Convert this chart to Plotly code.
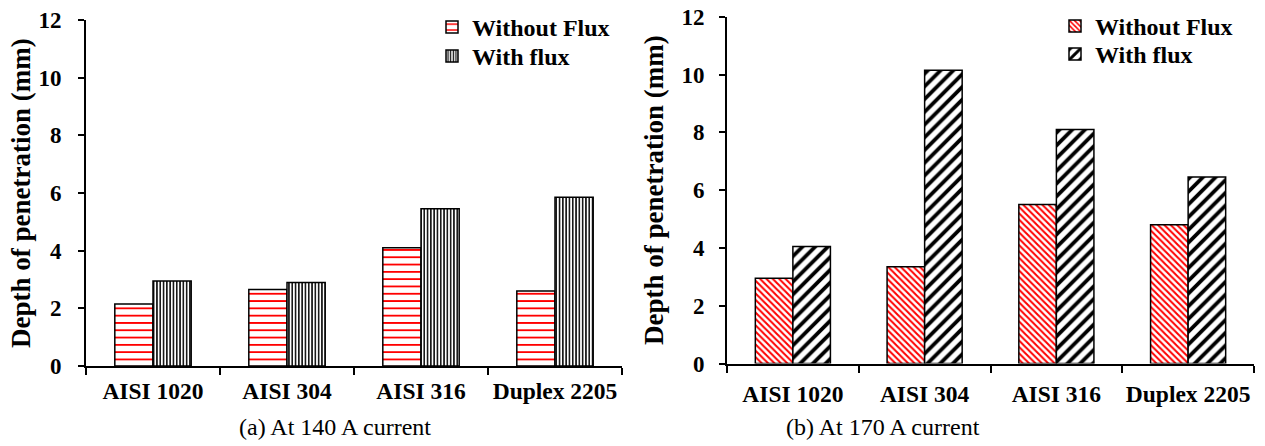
import plotly.graph_objects as go

categories = ["AISI 1020", "AISI 304", "AISI 316", "Duplex 2205"]
y_ticks = [0, 2, 4, 6, 8, 10, 12]

a_without_flux = [2.15, 2.65, 4.1, 2.6]
a_with_flux = [2.95, 2.9, 5.45, 5.85]
b_without_flux = [2.95, 3.35, 5.5, 4.8]
b_with_flux = [4.05, 10.15, 8.1, 6.45]

series_names = ["Without Flux", "With flux"]
y_title = "Depth of penetration (mm)"
captions = ["(a) At 140 A current", "(b) At 170 A current"]

FONT = "Liberation Serif, Times New Roman, serif"
W, H = 1265, 446

fig = go.Figure()

def bar(x, y, name, xa, ya, leg, shape, fg, size, solidity):
    return go.Bar(
        x=x, y=y, name=name, xaxis=xa, yaxis=ya, legend=leg,
        marker=dict(
            color="white",
            line=dict(color="black", width=1.5),
            pattern=dict(shape=shape, fgcolor=fg, bgcolor="white",
                         size=size, solidity=solidity, fillmode="replace"),
        ),
    )

fig.add_trace(bar(categories, a_without_flux, series_names[0], "x", "y", "legend", "-", "red", 7.3, 0.25))
fig.add_trace(bar(categories, a_with_flux, series_names[1], "x", "y", "legend2", "|", "black", 3.3, 0.45))
fig.add_trace(bar(categories, b_without_flux, series_names[0], "x2", "y2", "legend3", "\\", "red", 4.5, 0.45))
fig.add_trace(bar(categories, b_with_flux, series_names[1], "x2", "y2", "legend4", "/", "black", 9, 0.42))

tickfont = dict(family=FONT, size=23, color="black", weight="bold")
xtickfont = dict(family=FONT, size=23.5, color="black", weight="bold")

def xaxis(domain, anchor, standoff):
    return dict(domain=domain, anchor=anchor, type="category", range=[-0.5, 3.5],
                showline=True, linecolor="black", linewidth=2,
                ticks="outside", tickson="boundaries", ticklen=7, tickwidth=2,
                tickcolor="black", tickfont=xtickfont, showgrid=False,
                tickangle=0, ticklabelstandoff=standoff, fixedrange=True)

def yaxis(domain, anchor, standoff):
    return dict(domain=domain, anchor=anchor, range=[0, 12], tickvals=y_ticks,
                showline=True, linecolor="black", linewidth=2,
                ticks="outside", ticklen=6, tickwidth=2, tickcolor="black",
                tickfont=tickfont, showgrid=False, zeroline=False,
                ticklabelstandoff=standoff, fixedrange=True)

legfont = dict(family=FONT, size=24, color="black", weight="bold")

def leg(xpx, top_px):
    return dict(x=xpx / W, xanchor="left", y=1 - top_px / H, yanchor="top",
                font=legfont, bgcolor="rgba(0,0,0,0)", itemwidth=30,
                tracegroupgap=0)

fig.update_layout(
    width=W, height=H,
    margin=dict(l=0, r=0, t=0, b=0, autoexpand=False),
    paper_bgcolor="white", plot_bgcolor="white",
    barmode="group", bargap=0.43, bargroupgap=0,
    xaxis=xaxis([86 / W, 622 / W], "y", 3),
    yaxis=yaxis([1 - 366 / H, 1 - 20 / H], "x", 12),
    xaxis2=xaxis([727 / W, 1254 / W], "y2", 8),
    yaxis2=yaxis([1 - 363.5 / H, 1 - 16.7 / H], "x2", 10),
    legend=leg(432, 5),
    legend2=leg(432, 34),
    legend3=leg(1055, 4),
    legend4=leg(1055, 32),
    showlegend=True,
)

ann_font = dict(family=FONT, size=27, color="black", weight="bold")
fig.add_annotation(text=y_title, xref="paper", yref="paper", x=21 / W, y=1 - 193 / H,
                   textangle=-90, showarrow=False, font=ann_font,
                   xanchor="center", yanchor="middle")
fig.add_annotation(text=y_title, xref="paper", yref="paper", x=654 / W, y=1 - 190 / H,
                   textangle=-90, showarrow=False, font=ann_font,
                   xanchor="center", yanchor="middle")

cap_font = dict(family=FONT, size=24, color="black")
fig.add_annotation(text=captions[0], xref="paper", yref="paper", x=335 / W, y=1 - 427 / H,
                   showarrow=False, font=cap_font, xanchor="center", yanchor="middle")
fig.add_annotation(text=captions[1], xref="paper", yref="paper", x=883 / W, y=1 - 427 / H,
                   showarrow=False, font=cap_font, xanchor="center", yanchor="middle")

fig.write_html("out.html", config={"displayModeBar": False},
               post_script="document.body.style.margin='0';")
